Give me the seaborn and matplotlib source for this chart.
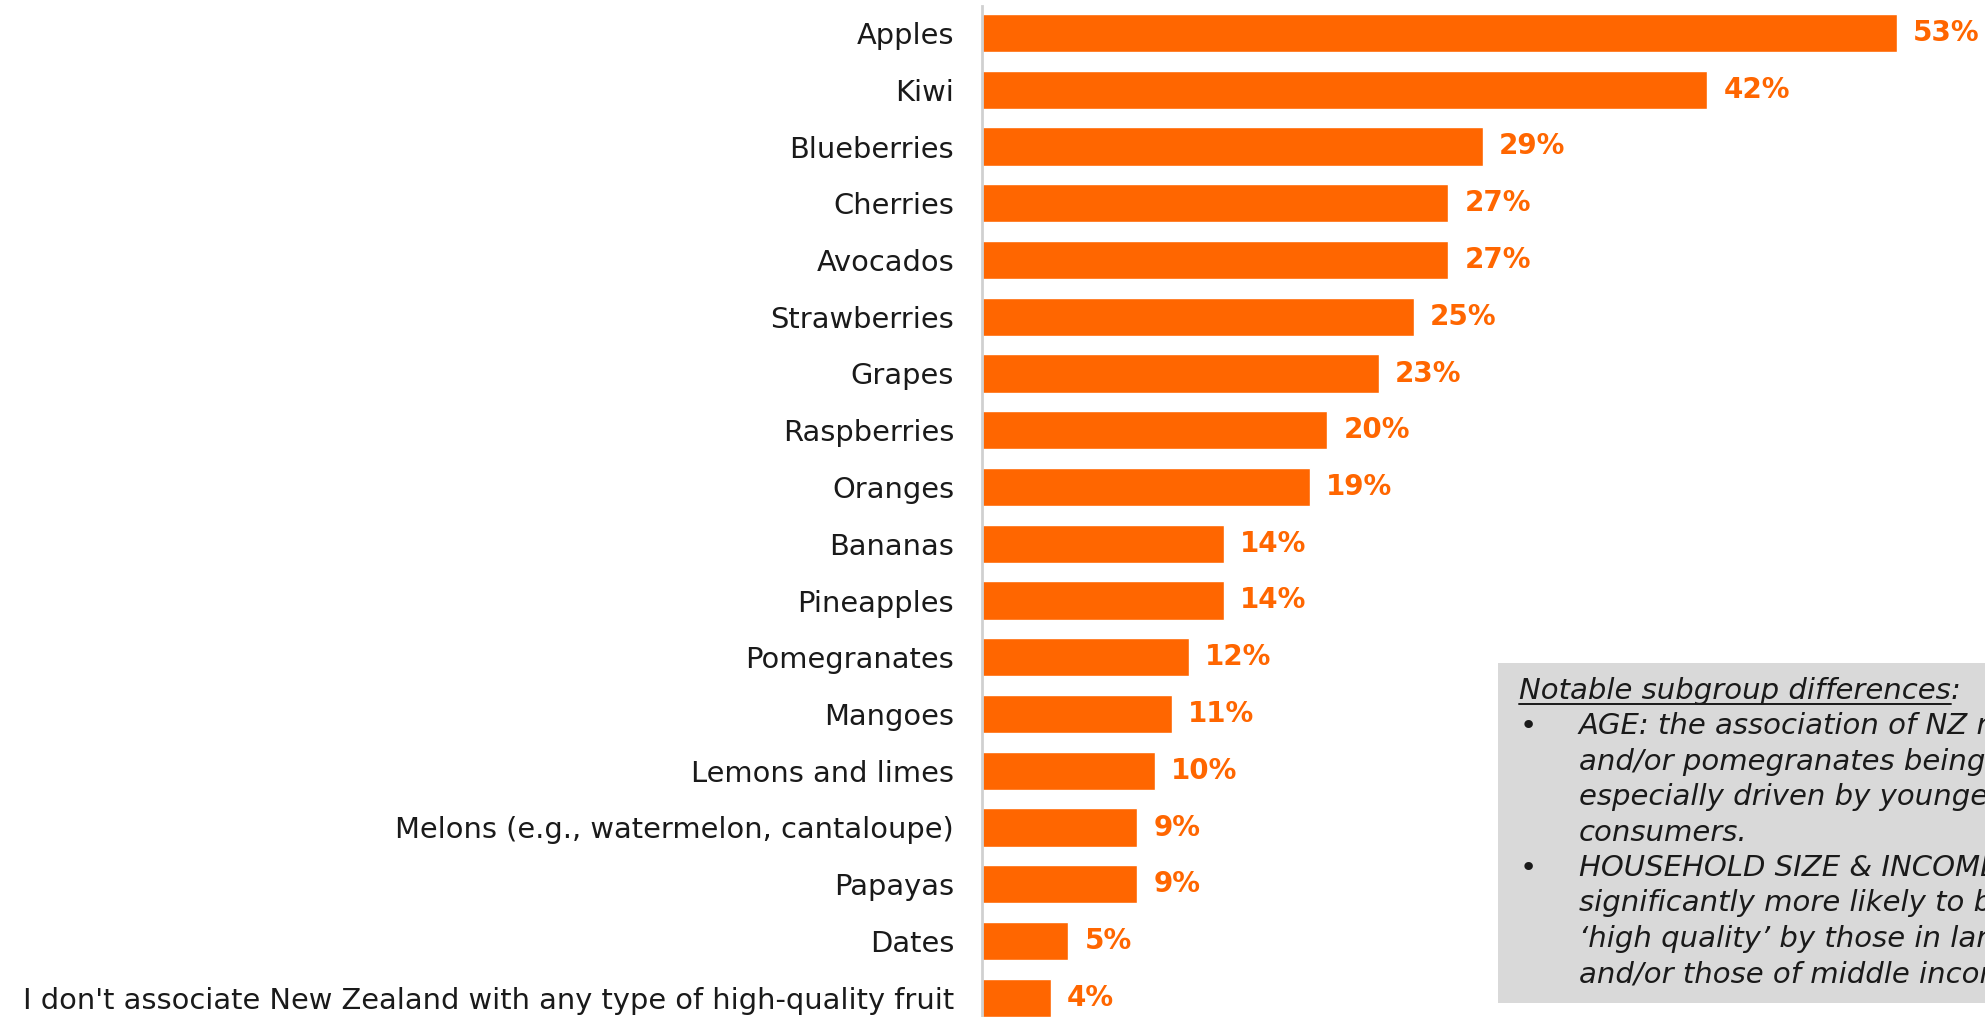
import matplotlib
matplotlib.use("Agg")
import matplotlib.pyplot as plt
from matplotlib.patches import Rectangle
from matplotlib.lines import Line2D
import seaborn as sns
import pandas as pd

# Fruits associated with New Zealand as "high quality" (% of respondents)
fruits = [
    "Apples", "Kiwi", "Blueberries", "Cherries", "Avocados", "Strawberries",
    "Grapes", "Raspberries", "Oranges", "Bananas", "Pineapples", "Pomegranates",
    "Mangoes", "Lemons and limes", "Melons (e.g., watermelon, cantaloupe)",
    "Papayas", "Dates",
    "I don't associate New Zealand with any type of high-quality fruit",
]
shares = [53, 42, 29, 27, 27, 25, 23, 20, 19, 14, 14, 12, 11, 10, 9, 9, 5, 4]
value_labels = [f"{v}%" for v in shares]

note_title = "Notable subgroup differences"
note_bullets = [
    ["AGE: the association of NZ raspberries, mangoes",
     "and/or pomegranates being 'high quality' is",
     "especially driven by younger",
     "consumers."],
    ["HOUSEHOLD SIZE & INCOME: NZ fruit is",
     "significantly more likely to be considered",
     "\u2018high quality\u2019 by those in larger households",
     "and/or those of middle income."],
]

ORANGE = "#FF6600"
TEXT = "#1a1a1a"

sns.set_theme(style="white")
plt.rcParams["font.family"] = ["DejaVu Sans"]

W, H = 1985, 1017
fig = plt.figure(figsize=(W / 100, H / 100), dpi=100)
x0 = 982
ax = fig.add_axes([x0 / W, 0, 1 - x0 / W, 1 - 6 / H])
ax.patch.set_visible(False)

df = pd.DataFrame({"fruit": fruits, "share": shares})
sns.barplot(data=df, x="share", y="fruit", color=ORANGE, saturation=1,
            width=0.675, ax=ax)

px_per_pct = 17.27
ax.set_xlim(0, (W - x0) / px_per_pct)
ax.set_ylim((H - 33) / 56.75, -27 / 56.75)

ax.bar_label(ax.containers[0], labels=value_labels, padding=11.5,
             color=ORANGE, fontweight="bold", fontsize=20)

ax.set_xlabel("")
ax.set_ylabel("")
ax.set_xticks([])
ax.tick_params(axis="y", length=0, pad=20, labelsize=20.8, labelcolor=TEXT)
for side in ["top", "right", "bottom"]:
    ax.spines[side].set_visible(False)
ax.spines["left"].set_color("#d0d0d0")
ax.spines["left"].set_linewidth(2)

# Notes panel in the lower right corner
bx0, by_top, by_bot = 1498, 663, 1003
fig.add_artist(Rectangle((bx0 / W, 1 - by_bot / H), (W - bx0 + 10) / W,
                         (by_bot - by_top) / H, transform=fig.transFigure,
                         facecolor="#d9d9d9", edgecolor="none", zorder=1))

fs_note = 21
line_h = 35.4
y_first = 691
title = fig.text(1519 / W, 1 - y_first / H, note_title, fontsize=fs_note,
                 style="italic", color=TEXT, va="center", ha="left", zorder=3)
fig.canvas.draw()
bb = title.get_window_extent()
fig.text(bb.x1 / W, 1 - y_first / H, ":", fontsize=fs_note, style="italic",
         color=TEXT, va="center", ha="left", zorder=3)
fig.add_artist(Line2D([bb.x0 / W, bb.x1 / W], [(bb.y0 + 1) / H] * 2,
                      transform=fig.transFigure, color=TEXT, lw=1.4, zorder=3))

row = 1
for lines in note_bullets:
    for k, line in enumerate(lines):
        y = 1 - (y_first + row * line_h) / H
        if k == 0:
            fig.text(1520 / W, y, "\u2022", fontsize=fs_note, color=TEXT,
                     va="center", ha="left", zorder=3)
        fig.text(1579 / W, y, line, fontsize=fs_note, style="italic",
                 color=TEXT, va="center", ha="left", zorder=3)
        row += 1

fig.savefig("out.png", dpi=100)
